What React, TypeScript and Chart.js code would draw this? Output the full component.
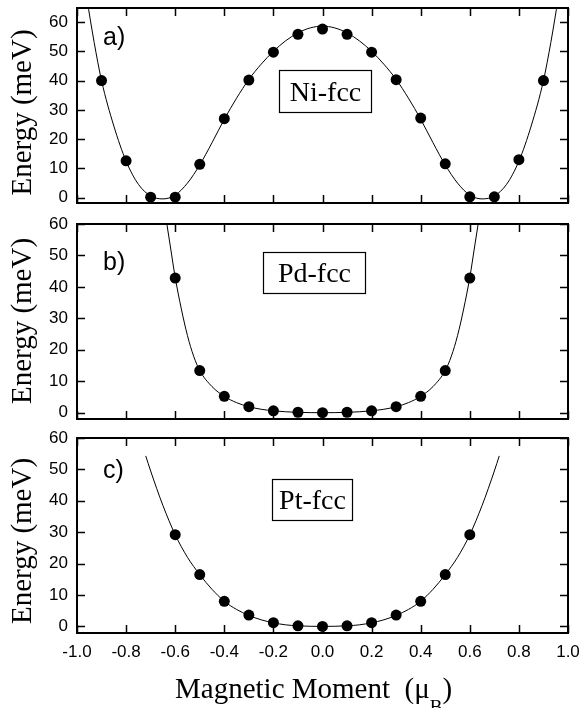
import React, { useEffect, useRef } from "react";
import { Chart, registerables } from "chart.js";

Chart.register(...registerables);

// ---------- data ----------
const X_TICKS = [-1.0, -0.8, -0.6, -0.4, -0.2, 0.0, 0.2, 0.4, 0.6, 0.8, 1.0];
const Y_TICKS = [0, 10, 20, 30, 40, 50, 60];

// a) Ni-fcc
const NI_X = [-0.9, -0.8, -0.7, -0.6, -0.5, -0.4, -0.3, -0.2, -0.1, 0.0, 0.1, 0.2, 0.3, 0.4, 0.5, 0.6, 0.7, 0.8, 0.9];
const NI_E = [40, 12.6, 0.2, 0.2, 11.4, 27, 40.2, 49.7, 55.8, 57.6, 55.8, 49.7, 40.3, 27.2, 11.6, 0.3, 0.3, 13, 40];
const NI_CURVE_X = [-0.96, -0.93, -0.9, -0.85, -0.8, -0.75, -0.7, -0.65, -0.6, -0.55, -0.5, -0.45, -0.4, -0.35, -0.3, -0.25, -0.2, -0.15, -0.1, -0.05, 0.0,
  0.05, 0.1, 0.15, 0.2, 0.25, 0.3, 0.35, 0.4, 0.45, 0.5, 0.55, 0.6, 0.65, 0.7, 0.75, 0.8, 0.85, 0.9, 0.93, 0.96];
const NI_CURVE_E = [68, 53, 40, 24.5, 12.5, 4.6, 0.6, -0.4, 0.9, 5, 11.2, 18.8, 26.8, 34, 40.4, 45.6, 50, 53.6, 56.3, 58, 58.6,
  58, 56.3, 53.6, 50, 45.6, 40.4, 34, 26.8, 18.8, 11.2, 5, 0.9, -0.4, 0.6, 4.6, 12.5, 24.5, 40, 53, 68];

// b) Pd-fcc
const PD_X = [-0.6, -0.5, -0.4, -0.3, -0.2, -0.1, 0.0, 0.1, 0.2, 0.3, 0.4, 0.5, 0.6];
const PD_E = [42.8, 13.4, 5.2, 1.9, 0.6, 0.15, 0, 0.15, 0.6, 1.9, 5.2, 13.4, 42.8];
const PD_CURVE_X = [-0.65, -0.62, -0.6, -0.575, -0.55, -0.525, -0.5, -0.45, -0.4, -0.35, -0.3, -0.25, -0.2, -0.15, -0.1, -0.05, 0.0,
  0.05, 0.1, 0.15, 0.2, 0.25, 0.3, 0.35, 0.4, 0.45, 0.5, 0.525, 0.55, 0.575, 0.6, 0.62, 0.65];
const PD_CURVE_E = [68, 53, 43, 33, 24.5, 18, 13.4, 8.3, 5.2, 3.2, 1.9, 1.1, 0.6, 0.3, 0.12, 0.03, 0,
  0.03, 0.12, 0.3, 0.6, 1.1, 1.9, 3.2, 5.2, 8.3, 13.4, 18, 24.5, 33, 43, 53, 68];

// c) Pt-fcc
const PT_X = [-0.6, -0.5, -0.4, -0.3, -0.2, -0.1, 0.0, 0.1, 0.2, 0.3, 0.4, 0.5, 0.6];
const PT_E = [29.2, 16.5, 8, 3.6, 1.2, 0.2, 0, 0.2, 1.2, 3.6, 8, 16.5, 29.2];
const PT_CURVE_X = [-0.72, -0.7, -0.65, -0.6, -0.55, -0.5, -0.45, -0.4, -0.35, -0.3, -0.25, -0.2, -0.15, -0.1, -0.05, 0.0,
  0.05, 0.1, 0.15, 0.2, 0.25, 0.3, 0.35, 0.4, 0.45, 0.5, 0.55, 0.6, 0.65, 0.7, 0.72];
const PT_CURVE_E = [54.3, 49.5, 38.5, 29.2, 22, 16.5, 11.8, 8, 5.4, 3.5, 2.1, 1.15, 0.5, 0.18, 0.04, 0,
  0.04, 0.18, 0.5, 1.15, 2.1, 3.5, 5.4, 8, 11.8, 16.5, 22, 29.2, 38.5, 49.5, 54.3];

const Y_TITLE = "Energy (meV)";
const X_TITLE_MAIN = "Magnetic Moment  (\u03bc";
const X_TITLE_SUB = "B";
const X_TITLE_END = ")";

const SANS = '"Liberation Sans", Arial, sans-serif';
const SERIF = '"Liberation Serif", "Times New Roman", serif';

const pts = (xs: number[], ys: number[]) => xs.map((x, i) => ({ x, y: ys[i] }));

// ---------- decoration plugin ----------
const deco = {
  id: "deco",
  afterDraw(chart: any, _args: any, o: any) {
    const { ctx, chartArea: ca } = chart;
    const xs = chart.scales.x;
    const ys = chart.scales.y;
    ctx.save();
    ctx.strokeStyle = "#000";
    ctx.fillStyle = "#000";
    // inward ticks
    ctx.lineWidth = 1.5;
    const TL = 8;
    X_TICKS.forEach((v) => {
      const px = Math.round(xs.getPixelForValue(v)) + 0.5;
      ctx.beginPath();
      ctx.moveTo(px, ca.bottom);
      ctx.lineTo(px, ca.bottom - TL);
      ctx.moveTo(px, ca.top);
      ctx.lineTo(px, ca.top + TL);
      ctx.stroke();
    });
    Y_TICKS.forEach((v) => {
      const py = Math.round(ys.getPixelForValue(v)) + 0.5;
      ctx.beginPath();
      ctx.moveTo(ca.left, py);
      ctx.lineTo(ca.left + TL, py);
      ctx.moveTo(ca.right, py);
      ctx.lineTo(ca.right - TL, py);
      ctx.stroke();
    });
    // frame
    ctx.lineWidth = 2;
    ctx.strokeRect(ca.left, ca.top, ca.right - ca.left, ca.bottom - ca.top);

    // panel letter
    ctx.font = "25px " + SANS;
    ctx.textAlign = "left";
    ctx.textBaseline = "alphabetic";
    ctx.fillText(o.label, ca.left + o.labelDx, ca.top + o.labelDy);

    // material box
    const b = o.box;
    ctx.lineWidth = 1.2;
    ctx.strokeRect(ca.left + b.dx + 0.5, ca.top + b.dy + 0.5, b.w, b.h);
    ctx.font = "28px " + SERIF;
    ctx.textAlign = "center";
    ctx.fillText(b.text, ca.left + b.dx + b.w / 2 + 0.5, ca.top + b.dy + b.h / 2 + 9.5);

    // y title
    ctx.save();
    ctx.translate(30.5, o.yTitleCY);
    ctx.rotate(-Math.PI / 2);
    ctx.font = "29px " + SERIF;
    ctx.textAlign = "center";
    ctx.fillText(Y_TITLE, 0, 0);
    ctx.restore();

    // x title
    if (o.xTitle) {
      const base = o.xTitleBase;
      let x = o.xTitleX;
      ctx.textAlign = "left";
      ctx.font = "29px " + SERIF;
      ctx.fillText(X_TITLE_MAIN, x, base);
      x += ctx.measureText(X_TITLE_MAIN).width;
      ctx.font = "19px " + SERIF;
      ctx.fillText(X_TITLE_SUB, x, base + 15);
      x += ctx.measureText(X_TITLE_SUB).width;
      ctx.font = "29px " + SERIF;
      ctx.fillText(X_TITLE_END, x, base);
    }
    ctx.restore();
  },
};

type PanelProps = {
  top: number;
  height: number;
  padTop: number;
  xAxisH: number;
  yMin: number;
  yMax: number;
  showX: boolean;
  px: number[];
  py: number[];
  cx: number[];
  cy: number[];
  deco: any;
};

function Panel(p: PanelProps) {
  const ref = useRef<HTMLCanvasElement>(null);
  useEffect(() => {
    if (!ref.current) return;
    const chart = new Chart(ref.current, {
      type: "line",
      data: {
        datasets: [
          {
            data: pts(p.px, p.py),
            showLine: false,
            pointRadius: 5.5,
            pointBackgroundColor: "#000",
            pointBorderColor: "#000",
            pointBorderWidth: 0,
            clip: false,
          } as any,
          {
            data: pts(p.cx, p.cy),
            borderColor: "#000",
            borderWidth: 1,
            pointRadius: 0,
            cubicInterpolationMode: "monotone",
            fill: false,
          } as any,
        ],
      },
      options: {
        animation: false,
        responsive: false,
        events: [],
        layout: { padding: { top: p.padTop, right: 14, left: 0, bottom: 0 } },
        plugins: {
          legend: { display: false },
          tooltip: { enabled: false },
          deco: p.deco,
        } as any,
        scales: {
          x: {
            type: "linear",
            min: -1,
            max: 1,
            afterBuildTicks: (s: any) => {
              s.ticks = X_TICKS.map((v) => ({ value: v }));
            },
            afterFit: (s: any) => {
              s.height = p.xAxisH;
              s.paddingLeft = 0;
              s.paddingRight = 0;
            },
            ticks: {
              display: p.showX,
              padding: 9,
              color: "#000",
              autoSkip: false,
              maxRotation: 0,
              font: { family: SANS, size: 17 },
              callback: (v: any) => Number(v).toFixed(1),
            },
            grid: { display: false, drawTicks: false },
            border: { display: false },
          },
          y: {
            type: "linear",
            min: p.yMin,
            max: p.yMax,
            afterBuildTicks: (s: any) => {
              s.ticks = Y_TICKS.map((v) => ({ value: v }));
            },
            afterFit: (s: any) => {
              s.width = 77;
              s.paddingTop = 0;
              s.paddingBottom = 0;
            },
            ticks: {
              padding: 9,
              color: "#000",
              autoSkip: false,
              font: { family: SANS, size: 17 },
              callback: (v: any) => String(v),
            },
            grid: { display: false, drawTicks: false },
            border: { display: false },
          },
        } as any,
      },
      plugins: [deco as any],
    });
    return () => chart.destroy();
  }, []);
  return (
    <canvas
      ref={ref}
      width={582}
      height={p.height}
      style={{ position: "absolute", left: 0, top: p.top, width: 582, height: p.height, display: "block" }}
    />
  );
}

export default function App() {
  return (
    <div style={{ position: "absolute", left: 0, top: 0, width: 582, height: 708, background: "#fff", overflow: "hidden" }}>
      <Panel
        top={0}
        height={210}
        padTop={8}
        xAxisH={7}
        yMin={-1.8}
        yMax={64.8}
        showX={false}
        px={NI_X}
        py={NI_E}
        cx={NI_CURVE_X}
        cy={NI_CURVE_E}
        deco={{
          label: "a)",
          labelDx: 26,
          labelDy: 37,
          box: { text: "Ni-fcc", dx: 202, dy: 62, w: 92, h: 42 },
          yTitleCY: 112.5,
          xTitle: false,
        }}
      />
      <Panel
        top={210}
        height={215}
        padTop={14}
        xAxisH={6}
        yMin={-2}
        yMax={60}
        showX={false}
        px={PD_X}
        py={PD_E}
        cx={PD_CURVE_X}
        cy={PD_CURVE_E}
        deco={{
          label: "b)",
          labelDx: 26,
          labelDy: 46,
          box: { text: "Pd-fcc", dx: 186, dy: 28, w: 102, h: 41 },
          yTitleCY: 111,
          xTitle: false,
        }}
      />
      <Panel
        top={425}
        height={283}
        padTop={13}
        xAxisH={75}
        yMin={-2.1}
        yMax={60}
        showX={true}
        px={PT_X}
        py={PT_E}
        cx={PT_CURVE_X}
        cy={PT_CURVE_E}
        deco={{
          label: "c)",
          labelDx: 26,
          labelDy: 40,
          box: { text: "Pt-fcc", dx: 195, dy: 41, w: 80, h: 41 },
          yTitleCY: 116,
          xTitle: true,
          xTitleX: 175,
          xTitleBase: 273,
        }}
      />
    </div>
  );
}
